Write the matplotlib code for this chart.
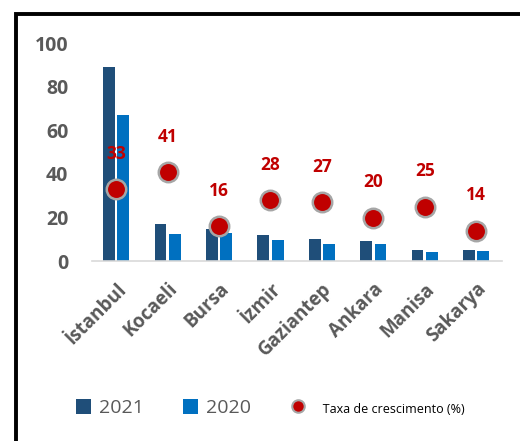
import numpy as np
import matplotlib.pyplot as plt
from matplotlib.patches import Rectangle

cities = ["İstanbul", "Kocaeli", "Bursa", "İzmir", "Gaziantep", "Ankara", "Manisa", "Sakarya"]
v2021 = [89, 17, 14.7, 12, 10, 9.2, 5, 5]
v2020 = [67, 12.4, 12.8, 9.6, 7.8, 7.8, 4, 4.4]
growth = [33, 41, 16, 28, 27, 20, 25, 14]

plt.rcParams['font.family'] = ['Open Sans', 'DejaVu Sans']

fig = plt.figure(figsize=(5.2, 4.41), dpi=100)
ax = fig.add_axes([0.177, 0.408, 0.788, 0.494])

x = np.arange(len(cities))
w = 0.23
b1 = ax.bar(x - 0.14, v2021, w, color='#1F4E79', label='2021')
b2 = ax.bar(x + 0.14, v2020, w, color='#0070C0', label='2020')
ax.plot(x, growth, 'o', ms=14, color='#C00000', mec='#A6A6A6', mew=1.8, zorder=3)
for xi, g in zip(x, growth):
    ax.text(xi, g + 12, str(g), ha='center', va='bottom', color='#C00000',
            fontsize=12.5, fontweight='bold')

ax.set_xlim(-0.47, 7.5)
ax.set_ylim(0, 100)
ax.set_yticks(range(0, 101, 20))
for s in ['top', 'right', 'left']:
    ax.spines[s].set_visible(False)
ax.spines['bottom'].set_color('#D9D9D9')
ax.spines['bottom'].set_linewidth(1.2)
ax.tick_params(axis='y', length=0, pad=17, labelsize=14, labelcolor='#595959')
ax.tick_params(axis='x', length=0, pad=13)
for t in ax.get_yticklabels():
    t.set_fontweight('bold')
ax.set_xticks(x)
ax.set_xticklabels(cities, rotation=45, ha='right', rotation_mode='anchor',
                   fontsize=13.5, fontweight='bold', color='#595959')

dot = plt.Line2D([], [], ls='none', marker='o', ms=9, color='#C00000',
                 mec='#A6A6A6', mew=1.5)
leg = fig.legend([b1, b2, dot], ['2021', '2020', '   Taxa de crescimento (%)'],
                 loc='center', bbox_to_anchor=(0.52, 1 - 408 / 441), ncol=3,
                 frameon=False, handlelength=0.8, handleheight=0.8,
                 handletextpad=0.4, columnspacing=2.0, fontsize=14)
for t in leg.get_texts()[:2]:
    t.set_color('#595959')
leg.get_texts()[2].set_fontsize(9)
leg.get_texts()[2].set_color('black')

fig.patches.append(Rectangle((15.5 / 520, -0.1), 1.2, 1 - 13.5 / 441 + 0.1,
                             transform=fig.transFigure, fill=False,
                             edgecolor='black', linewidth=2.8))

fig.savefig('out.png', dpi=100)
